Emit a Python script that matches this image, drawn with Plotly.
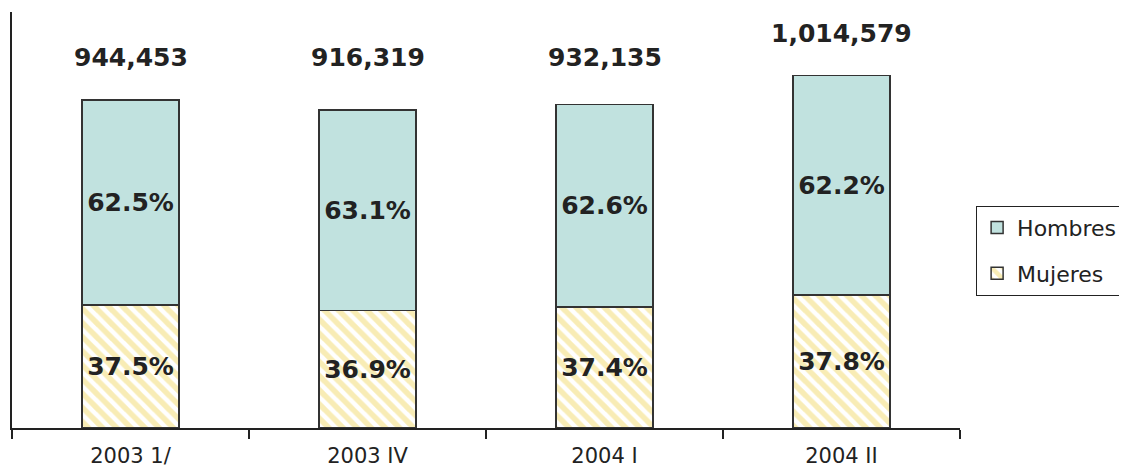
import plotly.graph_objects as go

# Data
periodos = ['2003 1/', '2003 IV', '2004 I', '2004 II']
totales = [944453, 916319, 932135, 1014579]
pct_hombres = [62.5, 63.1, 62.6, 62.2]
pct_mujeres = [37.5, 36.9, 37.4, 37.8]

FONT = 'DejaVu Sans'
TXT = '#222222'

mujeres = [t * p / 100 for t, p in zip(totales, pct_mujeres)]
hombres = [t * p / 100 for t, p in zip(totales, pct_hombres)]

fig = go.Figure()

fig.add_trace(go.Bar(
    x=periodos, y=mujeres, name='Mujeres', legendgroup='m', legendrank=2,
    marker=dict(
        color='#FFFFFF',
        line=dict(color='#333333', width=1.5),
        pattern=dict(shape='\\', fgcolor='#F2D96C', bgcolor='#FFFFFF',
                     size=10, solidity=0.55, fillmode='overlay'),
    ),
    text=[f'{p:.1f}%' for p in pct_mujeres],
    textposition='inside', insidetextanchor='middle', constraintext='none',
    textfont=dict(family=FONT, size=25, color=TXT, weight='bold'),
    width=0.41,
))

fig.add_trace(go.Bar(
    x=periodos, y=hombres, name='Hombres', legendgroup='h', legendrank=1,
    marker=dict(color='#C1E2DF', line=dict(color='#333333', width=1.5)),
    text=[f'{p:.1f}%' for p in pct_hombres],
    textposition='inside', insidetextanchor='middle', constraintext='none',
    textfont=dict(family=FONT, size=25, color=TXT, weight='bold'),
    width=0.41,
))

# total labels above the bars
for per, tot in zip(periodos, totales):
    fig.add_annotation(
        x=per, y=max(tot, totales[0]) + 122000,
        text=f'<b>{tot:,}</b>', showarrow=False,
        font=dict(family=FONT, size=25, color=TXT),
    )

# the page body adds an 8px offset, margins compensate for it
fig.update_layout(
    barmode='stack',
    width=1127, height=475,
    margin=dict(l=4, r=175, t=4, b=55),
    plot_bgcolor='white', paper_bgcolor='white',
    font=dict(family=FONT, color=TXT),
    legend=dict(
        x=1.017, xanchor='left', y=0.426, yanchor='middle',
        traceorder='grouped', tracegroupgap=14,
        bordercolor='#222222', borderwidth=1,
        font=dict(family=FONT, size=22, color=TXT),
        itemwidth=30,
    ),
    showlegend=True,
)

fig.update_xaxes(
    showline=True, linecolor='#222222', linewidth=1.5,
    ticks='outside', tickson='boundaries', ticklen=9, tickcolor='#222222',
    tickwidth=1.5, ticklabelstandoff=8,
    tickfont=dict(family=FONT, size=21, color=TXT),
    showgrid=False,
)
fig.update_yaxes(
    range=[0, 1198000],
    showline=True, linecolor='#222222', linewidth=1.5,
    showticklabels=False, ticks='', showgrid=False, zeroline=False,
)

fig.write_html('out.html')
